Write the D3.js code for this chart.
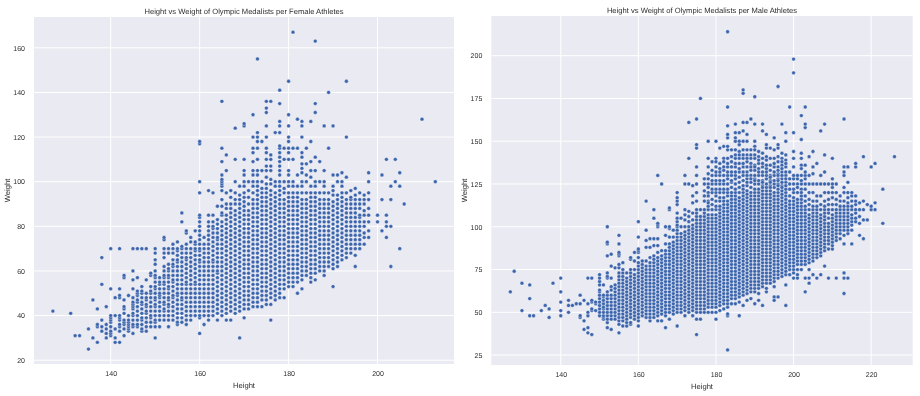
<!DOCTYPE html>
<html><head><meta charset="utf-8">
<script src="https://cdn.jsdelivr.net/npm/d3@7"></script>
<style>html,body{margin:0;padding:0;background:#fff}svg{display:block;filter:blur(0.35px)}text{font-family:"Liberation Sans",Arial,sans-serif;fill:#2e2e2e;text-rendering:geometricPrecision}</style>
</head><body><div id="c"></div>
<script>
const titleF="Height vs Weight of Olympic Medalists per Female Athletes";
const titleM="Height vs Weight of Olympic Medalists per Male Athletes";
const xTicksF=[140,160,180,200], yTicksF=[20,40,60,80,100,120,140,160];
const xTicksM=[140,160,180,200,220], yTicksM=[25,50,75,100,125,150,175,200];
// each row: height, then the weights read at that height
const femaleRows=[
[127,42],[131,41],[132,31],[133,31],[135,25,34],[136,30,47],[137,28,35,36,43],[138,33,35,38,54,66],[139,30,32,34,36,44],
[140,31,32,33,35,37,38,39,40,52,70],[141,28,30,34,40,48],[142,28,33,35,36,38,39,40,48,49,52,70],[143,31,34,36,37,38,41,43,44,47,57,58],
[144,33,34,35,36,37,38,40,49],[145,32,35,36,38,40,41,43,44,45,46,48,52,56,60,70],[146,35,36,38,40,42,44,46,47,49,50,51,57,70],
[147,33,34,36,38,39,41,43,45,46,48,50,51,53,70],[148,33,35,37,39,41,42,44,45,47,48,50,56,70],[149,35,37,39,40,42,44,46,48,50,51,53,58,59],
[150,30,35,37,38,40,42,44,45,47,48,50,52,53,55,57,58,60,63,65,68,70],[151,35,38,40,42,44,46,48,49,50,52,54,55,57],
[152,38,40,42,43,45,46,48,50,52,54,55,57,58,60,62,66,68,70,74,75],[153,35,38,40,42,44,45,47,48,50,52,53,55,57,58,60,61,63,68,70],
[154,38,40,42,44,46,48,49,51,53,55,56,58,60,62,63,65,68,70,72],[155,36,37,39,41,43,45,47,49,50,52,54,56,58,60,62,64,65,67,69,70,73],
[156,37,39,41,43,45,47,48,50,52,54,56,58,60,62,64,66,68,70,71,82,86],[157,36,38,40,42,44,46,48,50,52,54,55,57,59,61,63,65,66,68,70,72,77,78],
[158,38,40,42,44,46,48,50,52,54,56,58,60,62,64,66,68,70,73,75],[159,40,42,44,46,48,50,52,54,55,57,59,61,63,65,67,69,70,72,73,78],
[160,32,39,40,42,44,46,48,50,52,54,56,58,60,62,64,65,67,69,70,72,74,76,78,80,82,84,85,95,100,117,118],
[161,36,40,42,44,46,48,50,52,54,56,58,60,62,64,66,68,70,72,75],[162,38,40,42,44,46,48,50,52,54,56,58,60,62,64,66,68,70,72,74,76,78,80,82,85,96],
[163,40,42,44,46,48,50,52,54,56,58,60,62,64,65,67,69,71,73,75,77,79,80,82,85,95],[164,38,41,43,45,47,49,51,53,55,57,59,60,62,64,66,68,70,72,74,75,77,79,81,83,89],
[165,40,42,44,46,48,50,52,54,56,58,60,62,64,66,68,70,72,74,76,78,80,82,85,86,89,92,96,98,99,100,101,103,109,115,136],
[166,38,41,43,45,47,49,51,53,55,57,59,61,63,65,67,69,71,73,75,77,79,81,83,85,88,90,95,105,112],
[167,38,42,44,46,48,50,52,54,56,58,60,62,64,66,68,70,72,74,76,78,80,82,84,86,88,90,93,96],
[168,41,43,45,47,49,51,53,55,57,59,61,63,65,67,69,71,73,75,77,79,81,83,85,87,90,92,95,100,110,124],
[169,30,42,44,46,48,50,52,54,56,58,60,62,64,66,68,70,72,74,76,78,80,82,84,86,88,90,92,94,98],
[170,39,43,45,47,49,51,53,55,57,59,61,63,65,67,69,71,73,75,77,79,81,83,85,87,89,91,93,95,98,100,103,105,110,125,126],
[171,43,45,47,49,51,53,55,57,59,61,63,65,67,69,71,73,75,77,79,81,83,85,87,90,93,96,100],
[172,44,46,48,50,52,54,56,58,60,62,64,66,68,70,72,74,76,78,80,82,84,86,88,90,92,95,98,100,103,105,109,113,115,120,130],
[173,44,46,48,50,52,54,56,58,60,62,64,66,68,70,72,74,76,78,80,82,84,86,88,90,92,94,96,98,100,103,105,110,115,118,120,122,155],
[174,44,47,49,51,53,55,57,59,61,63,65,67,69,71,73,75,77,79,81,83,85,87,89,91,93,95,97,100,105,118],
[175,45,47,49,51,53,55,57,59,61,63,65,67,69,71,73,75,77,79,81,83,85,87,89,91,93,95,97,99,102,105,107,110,113,115,120,125,131,133,136],
[176,38,45,48,50,52,54,56,58,60,62,64,66,68,70,72,74,76,78,80,82,84,86,88,90,92,94,96,99,101,105,107,110,112,136],
[177,47,49,51,53,55,57,59,61,63,65,67,69,71,73,75,77,79,81,83,85,87,89,91,93,95,98,100,122],
[178,48,50,52,54,56,58,60,62,64,66,68,70,72,74,76,78,80,82,84,86,88,90,92,94,96,98,100,103,105,107,109,111,113,115,116,122,125,127,135,141],
[179,48,52,54,56,58,60,62,64,66,68,70,72,74,76,78,80,82,84,86,88,90,92,95,97,100,110,115],
[180,53,55,57,59,61,63,65,67,69,71,73,75,77,79,81,83,85,87,89,91,93,95,98,100,103,105,110,113,115,118,120,125,130,145],
[181,53,55,57,59,61,63,65,67,69,71,73,75,77,79,81,83,85,87,89,91,93,95,98,100,110,115,167],
[182,50,55,57,59,61,63,65,67,69,71,73,75,77,79,81,83,85,87,89,91,93,95,98,103,115,128],
[183,52,56,58,60,62,64,66,68,70,72,74,76,78,80,82,84,86,88,90,92,95,98,100,104,106,108,111,113,120,125,127],
[184,58,60,62,64,66,68,70,72,74,76,78,80,82,84,86,88,90,92,95,100,103,108,115],
[185,55,57,59,61,63,65,67,69,71,73,75,77,79,81,83,85,87,89,91,93,95,98,102,105,109,118,127],
[186,56,59,61,63,65,67,69,71,73,75,77,79,81,83,85,87,89,91,93,95,98,100,105,111,131,135,163],
[187,60,62,64,66,68,70,72,74,76,78,80,82,84,86,88,90,92,95,100,109],
[188,58,60,62,64,66,68,70,72,74,76,78,80,82,84,86,88,90,92,95,98,100,105,125],
[189,62,64,66,68,70,72,74,76,78,80,82,84,86,88,90,92,95,115,140],
[190,53,61,63,65,67,69,71,73,75,77,79,81,83,85,87,89,91,94,96,98,103,125],
[191,62,64,66,68,70,72,74,76,78,80,82,84,86,88,90,92,94,100,103],
[192,65,67,69,71,73,75,77,79,81,83,85,87,89,91,93,95,98,100,104],
[193,66,68,70,72,74,76,78,80,82,84,86,88,90,92,95,102,120,145],
[194,68,70,72,74,76,78,80,82,84,86,88,90,92,93,96],
[195,62,67,70,72,74,76,78,80,82,84,86,88,90,92,94,97],
[196,70,72,74,76,78,80,82,84,85,88,90,92,95],
[197,72,75,77,80,82,85,87,90,92,94],
[198,75,78,82,85,88,92,95,100,104],[200,82,85],[201,78,92,103],[202,75,80,82,85,110],[203,62,80,92,98],[204,100,110],[205,70,98,104],[206,90],[210,128],[213,100]
];
const maleRows=[
[127,62],[128,74],[130,51,67],[132,48,58,66],[133,48],[135,51],[136,54],[137,47,52],[138,67],[140,48,51,56,62,70],[142,50,54,57],[143,54],[144,55],
[145,47,48,55,60],[146,40,45,57],[147,38,41,48,50,55,70],[148,37,51,52,56,57,70],[149,51,55,56],[150,48,50,52,54,56,58,60,62,63,66,68,70,72],
[151,46,47,48,50,52,53,55,57,59,60,66],[152,41,44,46,48,50,52,54,56,58,60,62,70,71,73,83,90,91,100],[153,40,46,48,50,52,54,56,58,60,63,65,70,77,84],
[154,46,48,50,52,54,56,58,60,62,64,66,76],[155,38,43,45,47,49,51,53,55,57,59,61,63,65,67,69,71,73,76,78,83,84,85,90,95],
[156,42,45,47,49,51,53,55,57,59,61,63,65,67,69,71,73,75,79],[157,42,44,46,48,50,52,54,56,58,60,62,64,66,68,70,73],
[158,43,44,47,49,51,53,55,57,59,61,63,65,67,69,71,73,75,81,82],[159,46,48,50,52,54,56,58,60,62,64,66,68,70,72,75,80,85],
[160,42,45,47,49,51,53,55,57,59,61,63,65,67,69,71,73,75,77,79,82,85,86,87,94,103],[161,48,50,52,54,56,58,60,62,64,66,68,70,72,74,76,78,80],
[162,47,49,51,53,55,57,59,61,63,65,67,69,71,73,75,77,80,88,92,98,115],[163,45,47,49,51,53,55,57,59,61,63,65,67,69,71,73,75,77,79,82,88,93],
[164,47,49,51,53,55,57,59,61,63,65,67,69,71,73,75,77,79,81,83,89,93,105,110],[165,45,48,50,52,54,56,58,60,62,64,66,68,70,72,74,76,78,80,82,85,89,93,100,101,102,130],
[166,45,49,51,53,55,57,59,61,63,65,67,69,71,73,75,77,79,81,83,86,125],[167,41,48,50,52,54,56,58,60,62,64,66,68,70,72,74,76,78,80,82,84,86,90,95,100],
[168,46,50,52,54,56,58,60,62,64,66,68,70,72,74,76,78,80,82,84,86,88,90,94,99,100,110,111],[169,49,51,53,55,57,59,61,63,65,67,69,71,73,75,77,79,81,83,85,87,89,91,94,98],
[170,42,50,52,54,56,58,60,62,64,66,68,70,72,74,76,78,80,82,84,86,88,90,92,94,96,98,100,101,103,105,108,113,115,117,120],
[171,50,52,54,56,58,60,62,64,66,68,70,72,74,76,78,80,82,84,86,88,90,92,94,96,100,105],
[172,48,51,53,55,57,59,61,63,65,67,69,71,73,75,77,79,81,83,85,87,89,91,93,95,97,100,104,107,110,125,130],
[173,50,52,54,56,58,60,62,64,66,68,70,72,74,76,78,80,82,84,86,88,90,92,94,96,98,100,103,106,109,125,140,161],
[174,48,51,53,55,57,59,61,63,65,67,69,71,73,75,77,79,81,83,85,87,89,91,93,95,97,99,101,104,108,114,118,124],
[175,37,46,50,52,54,56,58,60,62,64,66,68,70,72,74,76,78,80,82,84,86,88,90,92,94,96,98,100,102,104,106,108,110,115,120,125,130,135,146,148,163],
[176,46,50,52,54,56,58,60,62,64,66,68,70,72,74,76,78,80,82,84,86,88,90,92,94,96,98,100,102,104,106,110,175],
[177,50,52,54,56,58,60,62,64,66,68,70,72,74,76,78,80,82,84,86,88,90,92,94,96,98,100,102,104,106,108,110,115,118,121,125,128],
[178,50,53,55,57,59,61,63,65,67,69,71,73,75,77,79,81,83,85,87,89,91,93,95,97,99,101,103,105,107,110,112,115,120,125,131,135,140,150],
[179,50,53,55,57,59,61,63,65,67,69,71,73,75,77,79,81,83,85,87,89,91,93,95,97,99,101,103,105,107,110,113,116,120,125,130],
[180,46,50,53,55,57,59,61,63,65,67,69,71,73,75,77,79,81,83,85,87,89,91,93,95,97,99,101,103,105,107,110,112,115,118,120,125,130,135,140,150],
[181,51,54,56,58,60,62,64,66,68,70,72,74,76,78,80,82,84,86,88,90,92,94,96,98,100,102,104,106,108,110,112,115,117,120,122,125,130,134,146],
[182,52,55,57,59,61,63,65,67,69,71,73,75,77,79,81,83,85,87,89,91,93,95,97,99,101,103,105,107,109,111,113,115,117,120,122,125,130,133,140,147],
[183,28,48,49,53,55,57,59,61,63,65,67,69,71,73,75,77,79,81,83,85,87,89,91,93,95,97,99,101,103,105,107,109,111,113,115,118,120,122,125,128,130,135,140,145,147,152,154,159,170,214],
[184,55,58,60,62,64,66,68,70,72,74,76,78,80,82,84,86,88,90,92,94,96,98,100,102,104,106,108,110,112,114,116,118,120,123,126,130,135,141],
[185,55,58,60,62,64,66,68,70,72,74,76,78,80,82,84,86,88,90,92,94,96,98,100,102,104,106,108,110,112,114,116,118,120,122,125,128,130,135,140,145,150,152,155,160],
[186,48,56,59,61,63,65,67,69,71,73,75,77,79,81,83,85,87,89,91,93,95,97,99,101,103,105,107,109,111,113,115,117,120,123,126,129,132,140,144,148,150,155],
[187,54,60,62,64,66,68,70,72,74,76,78,80,82,84,86,88,90,92,94,96,98,100,102,104,106,108,110,112,114,116,118,120,122,124,127,130,135,140,145,150,156,161,178,180],
[188,57,61,63,65,67,69,71,73,75,77,79,81,83,85,87,89,91,93,95,97,99,101,103,105,107,109,111,113,115,117,119,121,124,128,132,138,142,150,154,161],
[189,58,62,64,66,68,70,72,74,76,78,80,82,84,86,88,90,92,94,96,98,100,102,104,106,108,110,112,114,116,118,120,123,126,130,133,137,140,145,163],
[190,55,62,64,66,68,70,72,74,76,78,80,82,84,86,88,90,92,94,96,98,100,102,104,106,108,110,112,114,116,118,120,122,125,128,130,133,136,140,147,150,160,176],
[191,57,61,64,66,68,70,72,74,76,78,80,82,84,86,88,90,92,94,96,98,100,102,104,106,108,110,112,114,116,118,120,122,125,127,130,134,137,141,144],
[192,54,65,67,69,71,73,75,77,79,81,83,85,87,89,91,93,95,97,99,101,103,105,107,109,111,113,115,117,119,121,124,127,130,135,140,156,160],
[193,62,64,67,69,71,73,75,77,79,81,83,85,87,89,91,93,95,97,99,101,103,105,107,109,111,113,115,117,119,121,123,125,128,130,134,139,146,148,154],
[194,67,69,71,73,75,77,79,81,83,85,87,89,91,93,95,97,99,101,103,105,107,109,111,113,115,117,119,121,124,127,130,136,146],
[195,57,59,65,68,70,72,74,76,78,80,82,84,86,88,90,92,94,96,98,100,102,104,106,108,110,112,114,116,118,120,123,125,130,135,140,152],
[196,59,70,72,74,76,78,80,82,84,86,88,90,92,94,96,98,100,102,104,106,108,110,112,114,116,118,120,122,125,128,131,135,141,146,148,182],
[197,71,73,75,77,79,81,83,85,87,89,91,93,95,97,99,101,103,105,107,109,111,113,115,117,119,121,124,128,132,136,140,143,160],
[198,54,66,72,74,76,78,80,82,84,86,88,90,92,94,96,98,100,102,104,106,108,110,112,114,116,118,120,122,126,130,135,139,150,155],
[199,72,75,77,79,81,83,85,87,89,91,93,95,97,99,101,103,105,107,109,111,113,115,118,122,170],
[200,70,73,75,77,79,81,83,85,87,89,91,93,95,97,99,101,103,105,107,109,111,113,115,117,120,125,128,135,144,155,190,198],
[201,70,72,75,78,80,82,84,86,88,90,92,94,96,98,100,102,104,106,108,110,112,114,116,120,125,128],
[202,75,78,80,82,84,86,88,90,92,94,96,98,100,102,104,106,108,110,112,114,116,118,122,125,130,136,143,151,165],
[203,62,70,78,80,82,84,86,88,90,92,94,96,98,100,102,104,106,108,110,112,115,118,122,128,130,136,158,160,170],
[204,67,70,75,79,81,83,85,87,89,91,93,95,97,99,101,103,105,107,110,113,116,120,125,130,141],
[205,72,80,82,84,86,88,90,92,94,96,98,100,102,104,106,108,110,112,115,120,125,131,135,144],
[206,70,82,84,86,88,90,92,94,96,98,100,102,104,106,108,110,112,115,118,125,137],
[207,72,83,85,87,89,91,93,95,97,99,101,103,105,107,110,113,118,125,130,156],
[208,77,86,88,90,92,94,96,98,100,102,104,106,108,110,112,115,120,125,132,142,160],
[209,70,87,90,92,94,96,98,100,102,105,108,110,113,116,120,125],
[210,87,89,91,93,95,97,99,101,103,105,107,110,113,117,120,123,125,128,140],
[211,70,92,94,96,98,100,102,104,106,108,110,113,116,120,125],
[212,93,96,98,100,102,104,106,108,110,112,115,118],
[213,61,70,73,90,95,98,100,102,104,106,108,110,112,115,120,123,130,132,135,163],
[214,70,96,98,100,102,104,106,108,110,112,114,117,120,126,135],
[215,90,98,101,103,105,107,110,112,115,118,120],
[216,103,105,108,110,113,115,118,135,137],[217,95,102,106,110,114],[218,93,104,110,115,141],[219,104,113],[220,110,112,135],[221,110,114,137],[223,102,122],[226,141],
// second reading of the upper band
[178,114,118,123,128],[179,122,127,133,138],[180,122,127,132,138],[181,127,132,137],[182,127,135,138],[183,132,137],[184,127,132,138,145],[185,132,137,142],[186,134,137,142],[187,132,137,142],[188,126,130,135,140,145],[189,128,135,142],[190,127,135,142,145],[191,132,139],[192,123,126,132,137,143],[193,132,136,141],[194,123,126,129,133,140],[195,127,132,137,145],[196,124,127,130,133,138],[197,123,126,130,134,138],[198,124,128,132,137,142],[199,125,128,132],[200,122,130,140],[201,123,130],[202,120,127,134,140],[203,125,132]
];
const W=920,H=396;
const svg=d3.select("#c").append("svg").attr("width",W).attr("height",H);
function panel(o){
  const x=d3.scaleLinear().domain(o.xd).range([o.l,o.r]);
  const y=d3.scaleLinear().domain(o.yd).range([o.b,o.t]);
  const g=svg.append("g");
  g.append("rect").attr("x",o.l).attr("y",o.t).attr("width",o.r-o.l).attr("height",o.b-o.t).attr("fill","#eaeaf2");
  const ax=g.append("g").attr("transform",`translate(0,${o.b})`).call(d3.axisBottom(x).tickValues(o.xt).tickSize(0).tickPadding(7));
  const ay=g.append("g").attr("transform",`translate(${o.l},0)`).call(d3.axisLeft(y).tickValues(o.yt).tickSize(0).tickPadding(9));
  [ax,ay].forEach(a=>{a.select(".domain").remove();a.attr("font-size",7);a.selectAll("text").attr("font-size",7)});
  g.append("g").selectAll("line").data(o.xt).join("line").attr("x1",d=>x(d)).attr("x2",d=>x(d)).attr("y1",o.t).attr("y2",o.b).attr("stroke","#fff").attr("stroke-width",1);
  g.append("g").selectAll("line").data(o.yt).join("line").attr("y1",d=>y(d)).attr("y2",d=>y(d)).attr("x1",o.l).attr("x2",o.r).attr("stroke","#fff").attr("stroke-width",1);
  const pts=o.rows.flatMap(r=>r.slice(1).map(w=>[r[0],w]));
  g.append("g").selectAll("circle").data(pts).join("circle").attr("cx",d=>x(d[0])).attr("cy",d=>y(d[1])).attr("r",1.9).attr("fill","#3b64ac").attr("stroke","#fff").attr("stroke-width",0.35);
  const mid=(o.l+o.r)/2;
  g.append("text").attr("x",mid).attr("y",o.t-3.5).attr("text-anchor","middle").attr("font-size",7.6).text(o.title);
  g.append("text").attr("x",mid).attr("y",o.xl).attr("text-anchor","middle").attr("font-size",7.6).text("Height");
  g.append("text").attr("transform",`translate(${o.yl},${(o.t+o.b)/2}) rotate(-90)`).attr("text-anchor","middle").attr("font-size",7.6).text("Weight");
}
panel({l:34,r:454,t:17,b:364,xd:[122.75,217.2],yd:[18.3,173.8],xt:xTicksF,yt:yTicksF,rows:femaleRows,title:titleF,yl:10,xl:388});
panel({l:491.3,r:912.7,t:16,b:365,xd:[122.1,230.7],yd:[19.2,223.2],xt:xTicksM,yt:yTicksM,rows:maleRows,title:titleM,yl:467,xl:389});
</script></body></html>
